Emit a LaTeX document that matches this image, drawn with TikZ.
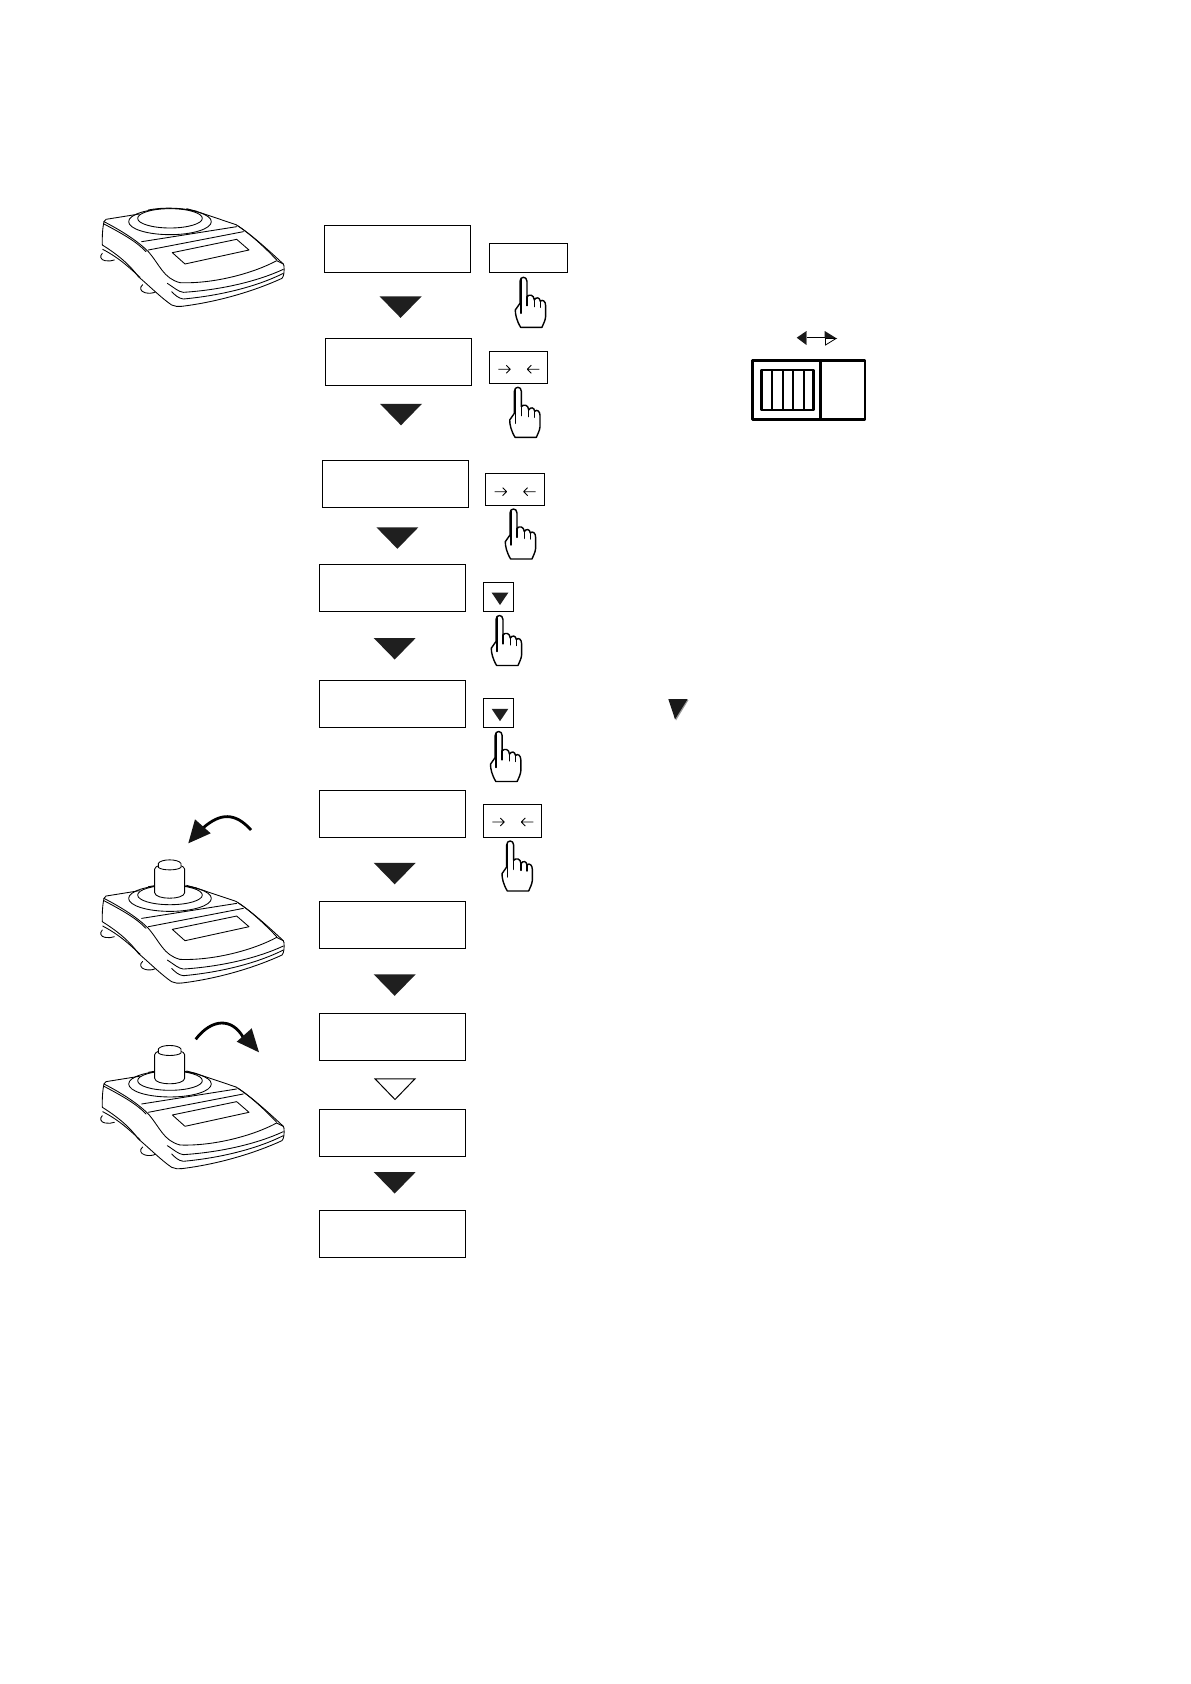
\documentclass[tikz,border=0pt]{standalone}
\tikzset{
  mainbox/.style={draw=black,line width=0.6pt,fill=white,minimum width=109.5pt,minimum height=35pt,inner sep=0pt,outer sep=0pt},
  keybox/.style={draw=black,line width=0.6pt,fill=white,inner sep=0pt,outer sep=0pt},
  dline/.style={line width=0.65pt,line join=round,line cap=round},
  handline/.style={line width=1.05pt,line join=round,line cap=round,fill=white},
}
\newcommand{\flowtri}[2]{\fill[black!88!white] (#1-21,#2) -- (#1+21,#2) -- (#1,#2+21.5) -- cycle;}
\newcommand{\balance}[2]{%
\begin{scope}[shift={(#1,#2)},x=0.25pt,y=-0.25pt,dline]
  % feet
  \draw (67,190) .. controls (58,198) and (62,210) .. (75,212) .. controls (85,214) and (95,213) .. (103,210);
  \draw (188,284) .. controls (178,292) and (180,304) .. (195,308) .. controls (205,311) and (218,310) .. (226,306);
  % top back edge
  \draw (72,95) -- (78,88) -- (178,72);
  \draw (320,56) -- (352,65) -- (468,104);
  \draw (468,104) .. controls (510,130) and (565,180) .. (610,222) -- (612,228);
  \draw (474,108) .. controls (515,135) and (560,178) .. (590,210);
  % pan
  \draw (270,95) ellipse [x radius=124,y radius=39];
  \draw[fill=white] (270,85) ellipse [x radius=97,y radius=29];
  \draw (205,60) .. controls (245,52) and (300,52) .. (350,64);
  % left side
  \draw (72,95) .. controls (68,112) and (66,140) .. (67,165);
  \draw (72,95) .. controls (130,125) and (175,155) .. (205,185) .. controls (240,225) and (250,265) .. (300,278);
  \draw (72,102) .. controls (125,130) and (170,155) .. (198,185);
  \draw (67,165) .. controls (115,195) and (150,225) .. (175,260) .. controls (205,285) and (245,325) .. (275,345) .. controls (285,350) and (295,350) .. (305,349);
  \draw (68,178) .. controls (120,205) and (150,235) .. (180,262);
  % front skirts
  \draw (300,278) .. controls (400,282) and (520,250) .. (590,212) -- (610,222);
  \draw (262,280) .. controls (285,295) and (295,305) .. (310,307) .. controls (420,300) and (530,275) .. (610,238);
  \draw (275,305) .. controls (285,315) and (295,325) .. (310,327) .. controls (420,317) and (530,290) .. (610,250);
  \draw (305,349) .. controls (420,335) and (530,300) .. (606,265) .. controls (612,258) and (613,245) .. (612,228);
  % panel lines
  \draw (185,155) -- (470,110);
  \draw (205,180) -- (490,125);
  \draw (277,188) -- (470,148) -- (507,180) -- (315,222) -- cycle;
\end{scope}}
\newcommand{\weight}[2]{%
\begin{scope}[shift={(#1,#2)},x=0.25pt,y=-0.25pt,dline]
  \draw[fill=white] (224,7) -- (224,78) .. controls (226,100) and (312,100) .. (314,78) -- (314,7) .. controls (312,-13) and (226,-13) .. (224,7) -- cycle;
  \draw[fill=white] (235,-10) -- (235,2) .. controls (245,12) and (293,12) .. (303,2) -- (303,-10) .. controls (295,-24) and (243,-24) .. (235,-10) -- cycle;
\end{scope}}
\newcommand{\pointer}[2]{%
\begin{scope}[shift={(#1+1,#2)},x=0.25pt,y=-0.25pt]
  \path[handline,draw] (-10,78) -- (-10,12) .. controls (-10,-4) and (11,-4) .. (11,12) -- (11,58) .. controls (18,50) and (32,52) .. (33,68) .. controls (38,58) and (50,60) .. (51,72) .. controls (58,65) and (67,72) .. (67,85) -- (67,118) .. controls (66,130) and (60,140) .. (56,150) -- (-8,150) .. controls (-20,130) and (-24,112) .. (-24,98) -- (-10,78) -- cycle;
  \draw[line width=1.05pt,line cap=round] (11,58) -- (11,85);
  \draw[line width=1.05pt,line cap=round] (33,68) -- (33,88);
  \draw[line width=1.05pt,line cap=round] (51,72) -- (51,90);
  \draw[line width=1.05pt,line cap=round] (-7,6) -- (-7,108);
\end{scope}}
\newcommand{\enterticks}[2]{%
  \draw[line width=0.65pt,line join=round] (#1+9,#2) -- (#1+21,#2) (#1+17,#2-4) -- (#1+21,#2) -- (#1+17,#2+4);
  \draw[line width=0.65pt,line join=round] (#1+50,#2) -- (#1+38,#2) (#1+42,#2-4) -- (#1+38,#2) -- (#1+42,#2+4);}
\begin{document}
\begin{tikzpicture}[x=0.75pt,y=-0.75pt]
\useasboundingbox (0,0) rectangle (1191,1684);
\fill[white] (0,0) rectangle (1191,1684);
% display boxes
\node[mainbox] (b1) at (397.4,249) {};
\node[mainbox] (b2) at (398.4,362) {};
\node[mainbox] (b3) at (395.2,483.6) {};
\node[mainbox] (b4) at (392,587.7) {};
\node[mainbox] (b5) at (392,703.8) {};
\node[mainbox] (b6) at (392,813.8) {};
\node[mainbox] (b7) at (392,925) {};
\node[mainbox] (b8) at (392,1036.8) {};
\node[mainbox] (b9) at (392,1132.6) {};
\node[mainbox] (b10) at (392,1233.6) {};
% flow triangles
\flowtri{400.6}{296.4}
\flowtri{401}{403.8}
\flowtri{397.4}{527.3}
\flowtri{394.7}{638}
\flowtri{394.7}{862.8}
\flowtri{394.7}{974.3}
\draw[line width=0.75pt,line join=miter,fill=white] (375,1078.8) -- (415,1078.8) -- (395,1099.5) -- cycle;
\flowtri{394.7}{1172}
% keys
\node[keybox,minimum width=58.8pt,minimum height=21.8pt] (k1) at (528.5,257.8) {};
\node[keybox,minimum width=43.5pt,minimum height=24pt] (k2) at (518.3,367.3) {};
\node[keybox,minimum width=44.3pt,minimum height=24.2pt] (k3) at (515,489.7) {};
\node[keybox,minimum width=22.8pt,minimum height=21.8pt] (k4) at (498.5,596.8) {};
\node[keybox,minimum width=22.8pt,minimum height=21.8pt] (k5) at (498.5,713) {};
\node[keybox,minimum width=43.5pt,minimum height=25pt] (k6) at (512.3,821) {};
\enterticks{489.3}{369.3}
\enterticks{485.6}{491.7}
\enterticks{483.3}{822}
\fill[black!88!white] (491.7,592.7) -- (508.3,592.7) -- (500,605) -- cycle;
\fill[black!88!white] (491.7,708.9) -- (508.3,708.9) -- (500,721.2) -- cycle;
% hands
\pointer{522.3}{277.3}
\pointer{516.7}{387.3}
\pointer{512.3}{509}
\pointer{498.3}{615.5}
\pointer{497.5}{731.5}
\pointer{509}{841}
% balances
\balance{80}{190}
\balance{80}{866.7}
\balance{80}{1052.3}
\weight{80}{866.7}
\weight{80}{1052.3}
% curved arrows
\draw[line width=2.1pt,line cap=butt] (251,830) .. controls (235,812) and (220,813) .. (203,828);
\fill[black!92!white] (195,819.3) -- (210.7,833.3) -- (188.3,843.3) -- cycle;
\draw[line width=2.1pt,line cap=butt] (195.7,1039.3) .. controls (212,1018) and (232,1018) .. (243,1037);
\fill[black!92!white] (251.7,1028.3) -- (236.7,1041.7) -- (259,1052.3) -- cycle;
% switch
\draw[line width=2pt,line join=round] (752.7,360.7) rectangle (865,419.3);
\draw[line width=2pt] (820.7,360.7) -- (820.7,419.3);
\draw[line width=1.9pt,line join=round] (761.7,370) rectangle (813.3,410);
\foreach \vx in {772.3,782.7,793.3,804} \draw[line width=1.7pt] (\vx,370) -- (\vx,410);
\draw[line width=1.1pt] (800,337.7) -- (826,337.7);
\fill[black!90!white] (796.7,337.7) -- (806.5,331) -- (806.5,345) -- cycle;
\draw[black!50!white,line width=0.5pt] (806.8,332) -- (806.8,345);
\fill[black!90!white] (824.7,331) -- (836,338) -- (824.7,338) -- cycle;
\draw[black,line width=0.6pt,fill=white] (836,338.5) -- (825.5,345) -- (825.5,338.5) -- cycle;
% loose triangle
\fill[black!40!white] (669,700) -- (688.5,700) -- (676,720.5) -- cycle;
\fill[black!90!white] (668.3,699) -- (687.7,699) -- (675,719.3) -- cycle;
\end{tikzpicture}
\end{document}
